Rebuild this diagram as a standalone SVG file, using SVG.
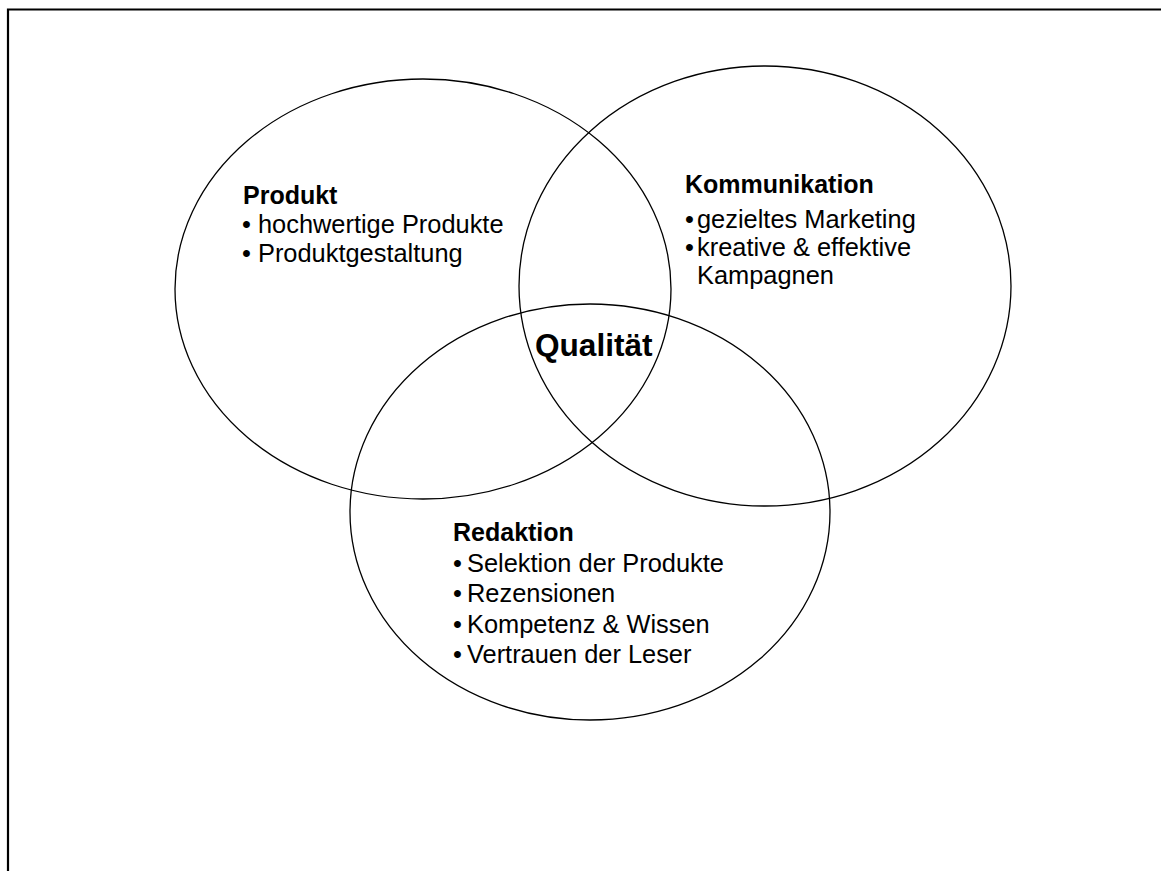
<svg xmlns="http://www.w3.org/2000/svg" width="1161" height="871" viewBox="0 0 1161 871">
<style>
.ell{fill:none;stroke:#000;stroke-width:1.3}
.t{font-family:"Liberation Sans",Arial,sans-serif;font-size:25.4px;fill:#000}
.h{font-weight:bold;font-size:25px}
.q{font-family:"Liberation Sans",Arial,sans-serif;font-size:31.6px;font-weight:bold;fill:#000}
.frame{fill:none;stroke:#000;stroke-width:2.2}
</style>
<rect width="1161" height="871" fill="#fff"/>
<path class="frame" d="M8 871 V9.5 H1161"/>
<g id="connectors"></g>
<g id="produkt">
<ellipse class="ell" cx="423" cy="289" rx="248" ry="210"/>
<text class="t h" x="243" y="204">Produkt</text>
<text class="t" x="242" y="233">• hochwertige Produkte</text>
<text class="t" x="242" y="262">• Produktgestaltung</text>
</g>
<g id="kommunikation">
<ellipse class="ell" cx="765" cy="286" rx="246" ry="220"/>
<text class="t h" x="685" y="193">Kommunikation</text>
<text class="t" x="685" y="228">•</text><text class="t" x="697" y="228">gezieltes Marketing</text>
<text class="t" x="685" y="256">•</text><text class="t" x="697" y="256">kreative &amp; effektive</text>
<text class="t" x="697" y="284">Kampagnen</text>
</g>
<g id="redaktion">
<ellipse class="ell" cx="590" cy="512" rx="240" ry="208"/>
<text class="t h" x="453" y="541">Redaktion</text>
<text class="t" x="453" y="572">•</text><text class="t" x="467" y="572">Selektion der Produkte</text>
<text class="t" x="453" y="602">•</text><text class="t" x="467" y="602">Rezensionen</text>
<text class="t" x="453" y="633">•</text><text class="t" x="467" y="633">Kompetenz &amp; Wissen</text>
<text class="t" x="453" y="663">•</text><text class="t" x="467" y="663">Vertrauen der Leser</text>
</g>
<g id="qualitaet">
<text class="q" x="535" y="356">Qualität</text>
</g>
</svg>
